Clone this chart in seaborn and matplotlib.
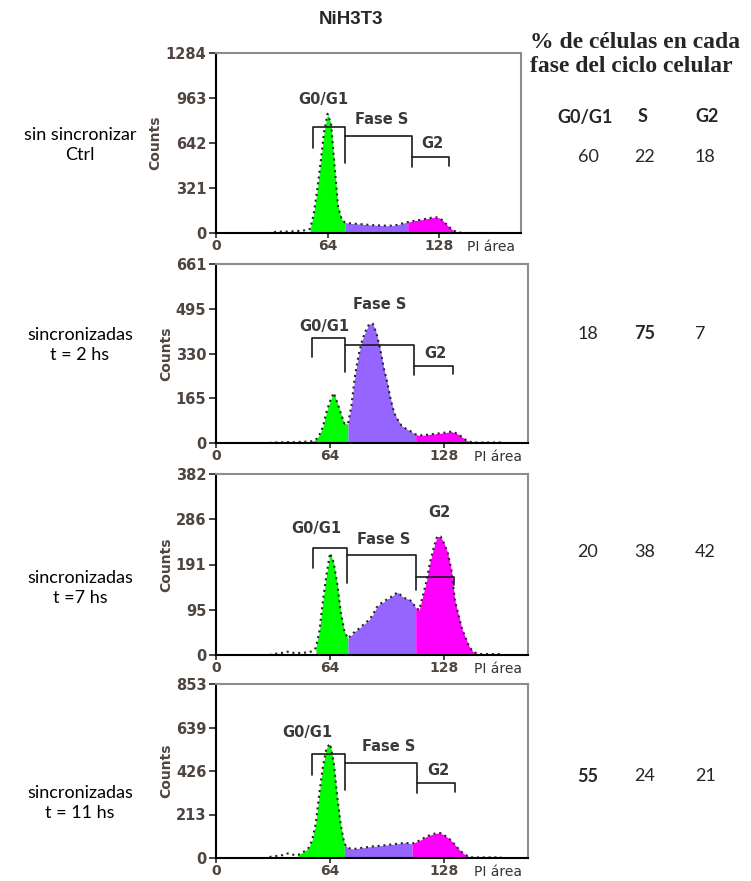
import numpy as np
import matplotlib
matplotlib.use("Agg")
import matplotlib.pyplot as plt
import seaborn as sns

# PI channel (histogram bins read every 2 channels)
channel = np.arange(30, 162, 2)

counts_ctrl = [0, 0, 8, 9, 10, 10, 12, 12, 14, 15,
               18, 20, 30, 130, 300, 500, 720, 850, 780, 480,
               190, 100, 75, 70, 68, 66, 64, 62, 60, 58,
               56, 55, 54, 53, 52, 52, 54, 58, 65, 72,
               78, 82, 88, 92, 95, 100, 105, 110, 112, 108,
               90, 65, 40, 20, 8, 3, 0, 0, 0, 0,
               0, 0, 0, 0, 0, 0]
counts_2h = [0, 2, 2, 2, 3, 3, 3, 3, 4, 4,
             5, 5, 7, 12, 30, 60, 115, 155, 185, 150,
             110, 72, 70, 140, 250, 325, 380, 415, 440, 440,
             405, 350, 280, 225, 160, 110, 85, 65, 55, 48,
             40, 32, 28, 29, 30, 32, 33, 35, 36, 38,
             40, 42, 38, 32, 22, 12, 5, 3, 2, 2,
             2, 2, 2, 2, 2, 2]
counts_7h = [0, 2, 3, 4, 5, 7, 6, 4, 4, 5,
             5, 6, 8, 15, 50, 115, 170, 215, 195, 150,
             90, 50, 35, 42, 50, 55, 62, 68, 75, 85,
             100, 108, 112, 118, 122, 128, 132, 125, 120, 118,
             112, 100, 95, 125, 155, 195, 225, 250, 250, 235,
             215, 180, 115, 85, 55, 36, 18, 8, 4, 2,
             2, 2, 2, 2, 2, 2]
counts_11h = [5, 8, 10, 12, 15, 22, 20, 14, 15, 25,
              35, 50, 90, 170, 320, 450, 540, 560, 470, 300,
              160, 70, 50, 45, 45, 48, 50, 52, 55, 57,
              58, 60, 62, 64, 66, 68, 70, 72, 75, 72,
              70, 78, 85, 95, 105, 112, 118, 122, 122, 112,
              100, 85, 65, 45, 28, 15, 6, 3, 3, 3,
              3, 3, 3, 3, 3, 3]
histograms = [counts_ctrl, counts_2h, counts_7h, counts_11h]

# gate limits: G0/G1 start, S start, G2 start, G2 end
gates = [(54, 74, 110, 138), (54, 74, 112, 144), (56, 74, 112, 146), (46, 72, 110, 144)]

y_max = [1284, 661, 382, 853]
y_ticklabels = [["0", "321", "642", "963", "1284"],
                ["0", "165", "330", "495", "661"],
                ["0", "95", "191", "286", "382"],
                ["0", "213", "426", "639", "853"]]

row_labels = ["sin sincronizar\nCtrl", "sincronizadas\nt = 2 hs",
              "sincronizadas\nt =7 hs", "sincronizadas\nt = 11 hs"]
pct_g1 = [60, 18, 20, 55]
pct_s = [22, 75, 38, 24]
pct_g2 = [18, 7, 42, 21]
bold_g1 = [False, False, False, True]
bold_s = [False, True, False, False]

# marker brackets (x0, x1, top, left leg end, right leg end) in data units
g1_marker = [(55.6, 73.9, 756, 606, 500), (54, 72.2, 389, 319, 263),
             (54.4, 73.5, 226, 184, 152), (54, 72.5, 508, 406, 333)]
s_marker = [(73.9, 112.2, 692, 471), (72.2, 111, 362, 251),
            (73.5, 112, 211, 137), (72.5, 112.7, 466, 317)]
g2_marker = [(112.2, 133.9, 542, 478), (111, 133, 284, 255),
             (112, 133.7, 165, 148), (112.7, 134, 366, 325)]
g1_text_at = [(61.7, 949), (60.8, 430), (56, 266), (51, 617)]
s_text_at = [(95, 813), (92, 510), (94, 243), (96.8, 547)]
g2_text_at = [(124.4, 642), (123, 332), (125.4, 300), (124.7, 430)]

sns.set_style("ticks")
plt.rcParams["font.family"] = ["DejaVu Sans"]

W, H = 751, 881
fig = plt.figure(figsize=(W / 100, H / 100), dpi=100)

# panel frames in pixels: left, top, bottom, right
frames = [(216, 53, 233, 521), (216, 264, 443, 528), (216, 474, 655, 528), (216, 684, 858, 528)]
row_y = [145, 345, 588, 803]
value_y = [157, 334, 552, 776]

GREEN, PURPLE, MAGENTA = "#00FF00", "#9664FF", "#FF00FF"
INK = "#4f4540"

for i in range(4):
    left, top, bottom, right = frames[i]
    ax = fig.add_axes([left / W, 1 - bottom / H, (right - left) / W, (bottom - top) / H])
    counts = np.array(histograms[i], dtype=float)
    g_lo, s_lo, g2_lo, g2_hi = gates[i]
    for lo, hi, col in [(g_lo, s_lo, GREEN), (s_lo, g2_lo, PURPLE), (g2_lo, g2_hi, MAGENTA)]:
        m = (channel >= lo) & (channel <= hi)
        ax.fill_between(channel[m], counts[m], color=col, lw=0, zorder=1)
    sns.lineplot(x=channel, y=counts, ax=ax, color="#262626", lw=1.5,
                 linestyle=(0, (1, 1.8)), zorder=2)

    # gate markers
    x0, x1, t, l1, l2 = g1_marker[i]
    ax.plot([x0, x0, x1, x1], [l1, t, t, l2], color="#1a1a1a", lw=1.2, zorder=3)
    x0, x1, t, l2 = s_marker[i]
    ax.plot([x0, x1, x1], [t, t, l2], color="#1a1a1a", lw=1.2, zorder=3)
    x0, x1, t, l2 = g2_marker[i]
    ax.plot([x0, x1, x1], [t, t, l2], color="#1a1a1a", lw=1.2, zorder=3)
    for txt, pos in [("G0/G1", g1_text_at[i]), ("Fase S", s_text_at[i]), ("G2", g2_text_at[i])]:
        ax.text(pos[0], pos[1], txt, ha="center", va="center", fontsize=10.5,
                fontweight="bold", color="#3a3a3a")

    ax.set_xlim(0, 175)
    ax.set_ylim(0, y_max[i])
    ax.set_xticks([0, 64, 128])
    ax.set_xticklabels(["0", "64", "128"])
    ax.set_yticks(np.linspace(0, y_max[i], 5))
    ax.set_yticklabels(y_ticklabels[i])
    ax.tick_params(axis="y", direction="out", length=5, width=1.2, labelsize=10.5,
                   labelcolor=INK, pad=2)
    ax.tick_params(axis="x", direction="out", length=3.5, width=1.2, labelsize=10,
                   labelcolor=INK, pad=1)
    for lab in ax.get_xticklabels() + ax.get_yticklabels():
        lab.set_fontweight("bold")
    ax.set_xlabel("")
    ax.set_ylabel("Counts", fontsize=10, fontweight="bold", color=INK, labelpad=2)
    for side in ["left", "bottom"]:
        ax.spines[side].set_color("black")
        ax.spines[side].set_linewidth(1.5)
    for side in ["top", "right"]:
        ax.spines[side].set_visible(True)
        ax.spines[side].set_color("#8c8c8c")
        ax.spines[side].set_linewidth(1.5)
    ax.annotate("PI área", xy=(158, 0), xycoords=("data", "axes fraction"),
                xytext=(0, -5), textcoords="offset points", ha="center", va="top",
                fontsize=10, color="#333333")

    # row label on the left
    fig.text(80 / W, 1 - row_y[i] / H, row_labels[i], ha="center", va="center",
             fontsize=13, family="Lato", color="black", linespacing=1.25)

    # percentages on the right
    yv = 1 - value_y[i] / H
    fig.text(588 / W, yv, str(pct_g1[i]), ha="center", va="center", fontsize=13,
             family="Lato", fontweight="bold" if bold_g1[i] else "normal")
    fig.text(645 / W, yv, str(pct_s[i]), ha="center", va="center", fontsize=13,
             family="Lato", fontweight="bold" if bold_s[i] else "normal")
    fig.text(695 / W, yv, str(pct_g2[i]), ha="left", va="center", fontsize=13,
             family="Lato")

fig.text(351 / W, 1 - 19 / H, "NiH3T3", ha="center", va="center", fontsize=13.5,
         fontweight="bold", family="Liberation Sans")
fig.text(530 / W, 1 - 42 / H, "% de células en cada", ha="left", va="center",
         fontsize=17, fontweight="bold", family="Liberation Serif")
fig.text(530 / W, 1 - 67 / H, "fase del ciclo celular", ha="left", va="center",
         fontsize=17, fontweight="bold", family="Liberation Serif")
for txt, x in [("G0/G1", 585), ("S", 643), ("G2", 707)]:
    fig.text(x / W, 1 - 117 / H, txt, ha="center", va="center", fontsize=13,
             fontweight="bold", family="Lato")

fig.savefig("out.png", dpi=100)
